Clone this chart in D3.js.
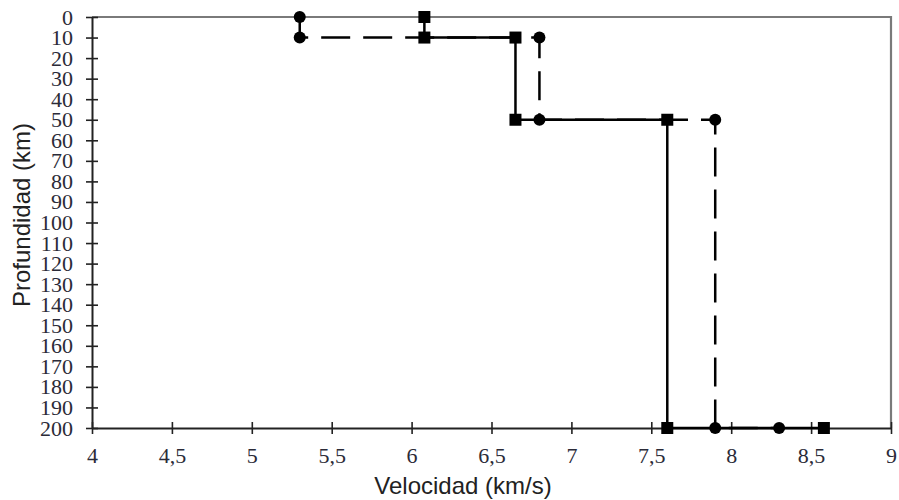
<!DOCTYPE html>
<html>
<head>
<meta charset="utf-8">
<script src="https://cdn.jsdelivr.net/npm/d3@7"></script>
<style>
  html, body { margin: 0; padding: 0; background: #fff; }
  svg { display: block; }
  .tick text { font-family: "Liberation Serif", "DejaVu Serif", serif; }
  .title { font-family: "Liberation Sans", Arial, sans-serif; }
</style>
</head>
<body>
<svg id="chart" width="899" height="500"></svg>
<script>
// Velocity model: depth (km) vs. seismic velocity (km/s)
const depthTicks = d3.range(0, 201, 10);
const velocityTicks = d3.range(4, 9.01, 0.5);

// Model A (dashed line, circle markers)
const modelAVelocity = [5.3, 5.3, 6.8, 6.8, 7.9, 7.9, 8.3];
const modelADepth    = [0,   10,  10,  50,  50,  200, 200];

// Model B (solid line, square markers)
const modelBVelocity = [6.08, 6.08, 6.65, 6.65, 7.6, 7.6, 8.58];
const modelBDepth    = [0,    10,   10,   50,   50,  200, 200];

const svg = d3.select("#chart");
const plot = { left: 92, right: 891, top: 17, bottom: 428 };

const x = d3.scaleLinear().domain([4, 9]).range([plot.left, plot.right]);
const y = d3.scaleLinear().domain([0, 200]).range([plot.top, plot.bottom]);

const fmt = v => String(v).replace(".", ",");

// frame (top and right)
svg.append("path")
  .attr("d", `M${plot.left},${plot.top}H${plot.right}V${plot.bottom}`)
  .attr("fill", "none")
  .attr("stroke", "#7a7a7a")
  .attr("stroke-width", 2.2);

// y axis
const gy = svg.append("g")
  .attr("transform", `translate(${plot.left},0)`)
  .call(d3.axisLeft(y).tickValues(depthTicks).tickSize(6).tickPadding(13).tickSizeOuter(0));
gy.selectAll(".tick line").attr("x1", 6).attr("x2", -6);

// x axis
const gx = svg.append("g")
  .attr("transform", `translate(0,${plot.bottom})`)
  .call(d3.axisBottom(x).tickValues(velocityTicks).tickFormat(fmt).tickSize(6).tickPadding(13).tickSizeOuter(0));
gx.selectAll(".tick line").attr("y1", -6).attr("y2", 6);

[gx, gy].forEach(g => {
  g.attr("font-family", "Liberation Serif, DejaVu Serif, serif").attr("font-size", 22);
  g.select(".domain").attr("stroke", "#222").attr("stroke-width", 2);
  g.selectAll(".tick line").attr("stroke", "#222").attr("stroke-width", 1.6);
  g.selectAll(".tick text").attr("fill", "#2b2b38");
});

// axis titles
svg.append("text")
  .attr("class", "title")
  .attr("x", 463).attr("y", 494)
  .attr("text-anchor", "middle")
  .attr("font-size", 24)
  .attr("fill", "#222")
  .text("Velocidad (km/s)");

svg.append("text")
  .attr("class", "title")
  .attr("transform", "translate(30,215) rotate(-90)")
  .attr("text-anchor", "middle")
  .attr("font-size", 24)
  .attr("fill", "#222")
  .text("Profundidad (km)");

const line = d3.line().x(d => x(d[0])).y(d => y(d[1]));
const modelA = modelAVelocity.map((v, i) => [v, modelADepth[i]]);
const modelB = modelBVelocity.map((v, i) => [v, modelBDepth[i]]);

// Model A
svg.append("path")
  .datum(modelA)
  .attr("d", line)
  .attr("fill", "none")
  .attr("stroke", "#000")
  .attr("stroke-width", 2.5)
  .attr("stroke-dasharray", "29,13");

// Model B
svg.append("path")
  .datum(modelB)
  .attr("d", line)
  .attr("fill", "none")
  .attr("stroke", "#000")
  .attr("stroke-width", 2.5);

svg.append("g").selectAll("circle")
  .data(modelA)
  .join("circle")
  .attr("cx", d => x(d[0]))
  .attr("cy", d => y(d[1]))
  .attr("r", 6)
  .attr("fill", "#000");

svg.append("g").selectAll("rect")
  .data(modelB)
  .join("rect")
  .attr("x", d => x(d[0]) - 6)
  .attr("y", d => y(d[1]) - 6)
  .attr("width", 12)
  .attr("height", 12)
  .attr("fill", "#000");
</script>
</body>
</html>
